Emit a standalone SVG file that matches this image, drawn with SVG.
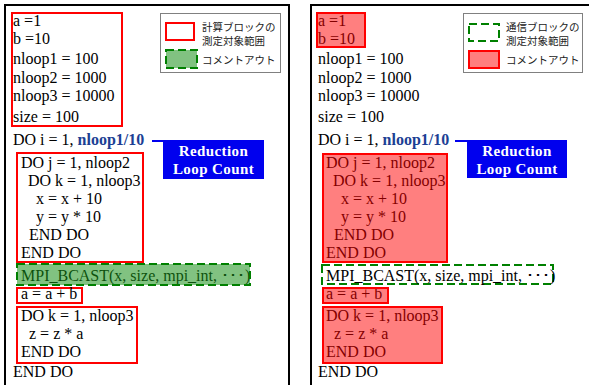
<svg xmlns="http://www.w3.org/2000/svg" width="589" height="385" viewBox="0 0 589 385">
<style>
.code{font-family:"Liberation Serif","Times New Roman",serif;font-size:16px;fill:#000}
.hl{font-weight:bold;fill:#1c3f94}
.panel{fill:#fff;stroke:#000;stroke-width:2}
.calc{fill:none;stroke:#ff0000;stroke-width:2}
.comm{fill:none;stroke:#008000;stroke-width:2;stroke-dasharray:8 4}
.redfill{fill:#ff0000;fill-opacity:0.5}
.greenfill{fill:#1a8f1a;fill-opacity:0.55}
.leg{fill:#fff;stroke:#808080;stroke-width:1}
.jp{font-family:"Noto Sans CJK JP",sans-serif;font-size:10.5px;fill:#222}
.bluebox{fill:#0000ee}
.bt{font-family:"Liberation Serif","Times New Roman",serif;font-weight:bold;font-size:15px;fill:#fff;text-anchor:middle;letter-spacing:0.4px}
.conn{stroke:#0000ee;stroke-width:2;fill:none}
</style>
<rect width="589" height="385" fill="#fff"/>

<!-- LEFT PANEL -->
<g id="left-panel">
<rect class="panel" x="5" y="5" width="284" height="400"/>
</g>
<g id="left-init">
<rect class="calc" x="12" y="13" width="110" height="113"/>
<text class="code" x="13" y="26">a =1</text>
<text class="code" x="13" y="44">b =10</text>
<text class="code" x="13" y="64">nloop1 = 100</text>
<text class="code" x="13" y="83">nloop2 = 1000</text>
<text class="code" x="13" y="101">nloop3 = 10000</text>
<text class="code" x="13" y="122">size = 100</text>
</g>
<g id="left-legend">
<rect class="leg" x="160.5" y="13.5" width="120" height="59"/>
<rect class="calc" x="166" y="23" width="28" height="17"/>
<text class="jp" x="202" y="30.5">計算ブロックの</text>
<text class="jp" x="202" y="44.5">測定対象範囲</text>
<rect class="greenfill" x="166" y="50" width="31" height="18"/>
<rect class="comm" x="166" y="50" width="31" height="18"/>
<text class="jp" x="202" y="64">コメントアウト</text>
</g>
<g id="left-doi">
<text class="code" x="13" y="145">DO i = 1, <tspan class="hl">nloop1/10</tspan></text>
</g>
<g id="left-reduction">
<rect class="bluebox" x="163" y="140" width="101" height="39"/>
<text class="bt" x="213.5" y="156">Reduction</text>
<text class="bt" x="213.5" y="174">Loop Count</text>
</g>
<g id="left-loopj">
<rect class="calc" x="17" y="153" width="126" height="109"/>
<text class="code" x="21" y="168">DO j = 1, nloop2</text>
<text class="code" x="28" y="186">DO k = 1, nloop3</text>
<text class="code" x="36" y="204">x = x + 10</text>
<text class="code" x="36" y="222">y = y * 10</text>
<text class="code" x="29" y="240">END DO</text>
<text class="code" x="21" y="258">END DO</text>
</g>
<g id="left-mpi">
<text class="code" x="21" y="281">MPI_BCAST(x, size, mpi_int, ･･･)</text>
<rect class="greenfill" x="17" y="264" width="233" height="21"/>
<rect class="comm" x="17" y="264" width="233" height="21"/>
</g>
<g id="left-sum">
<rect class="calc" x="17" y="288" width="65" height="15"/>
<text class="code" x="21" y="299">a = a + b</text>
</g>
<g id="left-loopk">
<rect class="calc" x="17" y="307" width="120" height="56"/>
<text class="code" x="21" y="321">DO k = 1, nloop3</text>
<text class="code" x="29" y="339">z = z * a</text>
<text class="code" x="21" y="357">END DO</text>
</g>
<g id="left-end">
<text class="code" x="13" y="377">END DO</text>
</g>

<!-- RIGHT PANEL -->
<g id="right-panel">
<rect class="panel" x="311" y="5" width="290" height="400"/>
</g>
<g id="right-init">
<text class="code" x="318" y="26">a =1</text>
<text class="code" x="318" y="44">b =10</text>
<rect class="redfill" x="317" y="13" width="48" height="34"/>
<rect class="calc" x="317" y="13" width="48" height="34"/>
<text class="code" x="318" y="64">nloop1 = 100</text>
<text class="code" x="318" y="83">nloop2 = 1000</text>
<text class="code" x="318" y="101">nloop3 = 10000</text>
<text class="code" x="318" y="122">size = 100</text>
</g>
<g id="right-legend">
<rect class="leg" x="463.5" y="13.5" width="119" height="59"/>
<rect class="comm" x="469" y="24" width="30" height="17"/>
<text class="jp" x="506" y="30.5">通信ブロックの</text>
<text class="jp" x="506" y="44.5">測定対象範囲</text>
<rect class="redfill" x="469" y="51" width="30" height="17"/>
<rect class="calc" x="469" y="51" width="30" height="17"/>
<text class="jp" x="506" y="64">コメントアウト</text>
</g>
<g id="right-doi">
<text class="code" x="318" y="145">DO i = 1, <tspan class="hl">nloop1/10</tspan></text>
</g>
<g id="right-reduction">
<rect class="bluebox" x="467" y="140" width="100" height="38"/>
<text class="bt" x="517" y="156">Reduction</text>
<text class="bt" x="517" y="174">Loop Count</text>
</g>
<g id="right-loopj">
<text class="code" x="326" y="168">DO j = 1, nloop2</text>
<text class="code" x="333" y="186">DO k = 1, nloop3</text>
<text class="code" x="341" y="204">x = x + 10</text>
<text class="code" x="341" y="222">y = y * 10</text>
<text class="code" x="334" y="240">END DO</text>
<text class="code" x="326" y="258">END DO</text>
<rect class="redfill" x="323" y="154" width="124" height="108"/>
<rect class="calc" x="323" y="154" width="124" height="108"/>
</g>
<g id="right-mpi">
<rect class="comm" x="322" y="265" width="231" height="19"/>
<text class="code" x="326" y="281">MPI_BCAST(x, size, mpi_int, ･･･)</text>
</g>
<g id="right-sum">
<text class="code" x="326" y="299">a = a + b</text>
<rect class="redfill" x="323" y="288" width="65" height="15"/>
<rect class="calc" x="323" y="288" width="65" height="15"/>
</g>
<g id="right-loopk">
<text class="code" x="326" y="321">DO k = 1, nloop3</text>
<text class="code" x="334" y="339">z = z * a</text>
<text class="code" x="326" y="357">END DO</text>
<rect class="redfill" x="323" y="307" width="119" height="56"/>
<rect class="calc" x="323" y="307" width="119" height="56"/>
</g>
<g id="right-end">
<text class="code" x="318" y="377">END DO</text>
</g>

<g id="connectors">
<line class="conn" x1="152" y1="141" x2="164" y2="141"/>
<line class="conn" x1="455" y1="141" x2="468" y2="141"/>
</g>
</svg>
